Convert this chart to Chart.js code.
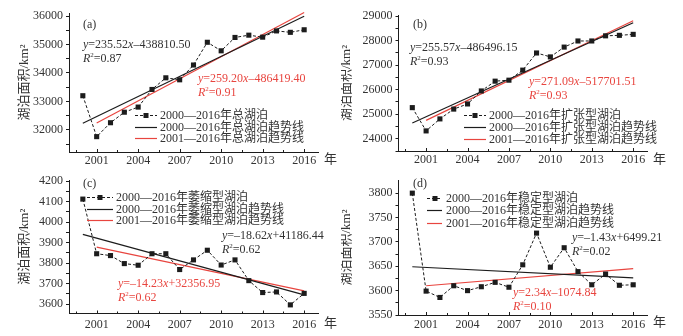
<!DOCTYPE html>
<html><head><meta charset="utf-8">
<script src="https://cdn.jsdelivr.net/npm/chart.js@4.4.1/dist/chart.umd.min.js"></script>
<style>
html,body{margin:0;padding:0;background:#fff;width:683px;height:336px;overflow:hidden}
canvas{position:absolute;display:block}
</style></head><body>
<canvas id="ca" width="341" height="168" style="left:0;top:0;width:341px;height:168px"></canvas>
<canvas id="cb" width="342" height="168" style="left:341px;top:0;width:342px;height:168px"></canvas>
<canvas id="cc" width="341" height="168" style="left:0;top:168px;width:341px;height:168px"></canvas>
<canvas id="cd" width="342" height="168" style="left:341px;top:168px;width:342px;height:168px"></canvas>
<script>
// ---------------- data ----------------
const years = [2000,2001,2002,2003,2004,2005,2006,2007,2008,2009,2010,2011,2012,2013,2014,2015,2016];
const totalLake  = [33200,31760,32250,32620,32800,33420,33830,33760,34280,35080,34780,35250,35330,35260,35480,35430,35520];
const expandLake = [25270,24320,24810,25210,25420,25950,26350,26390,26800,27500,27340,27740,27990,27990,28200,28220,28260];
const shrinkLake = [4112,3846,3837,3798,3790,3846,3846,3769,3816,3863,3791,3816,3715,3657,3660,3597,3653];
const stableLake = [3800,3599,3586,3610,3600,3608,3617,3607,3653,3718,3648,3688,3639,3612,3634,3611,3612];

const trendYears00 = [2000, 2016];
const trendYears01 = [2001, 2016];
const totalTrend00  = [32230, 35998];
const totalTrend01  = [32240, 36128];
const expandTrend00 = [24644, 28733];
const expandTrend01 = [24750, 28816];
const shrinkTrend00 = [3940, 3646];
const shrinkTrend01 = [3878, 3665];
const stableTrend00 = [3649, 3626];
const stableTrend01 = [3610, 3645];

const xTickLabels = [2001, 2004, 2007, 2010, 2013, 2016];
const yTicksA = [32000, 33000, 34000, 35000, 36000];
const yTicksB = [24000, 25000, 26000, 27000, 28000, 29000];
const yTicksC = [3600, 3700, 3800, 3900, 4000, 4100, 4200];
const yTicksD = [3550, 3600, 3650, 3700, 3750, 3800];

const labelsA = ['2000—2016年总湖泊','2000—2016年总湖泊趋势线','2001—2016年总湖泊趋势线'];
const labelsB = ['2000—2016年扩张型湖泊','2000—2016年扩张型湖泊趋势线','2001—2016年扩张型湖泊趋势线'];
const labelsC = ['2000—2016年萎缩型湖泊','2000—2016年萎缩型湖泊趋势线','2001—2016年萎缩型湖泊趋势线'];
const labelsD = ['2000—2016年稳定型湖泊','2000—2016年稳定型湖泊趋势线','2001—2016年稳定型湖泊趋势线'];

const eqA = ['y=235.52x–438810.50','0.87','y=259.20x–486419.40','0.91'];
const eqB = ['y=255.57x–486496.15','0.93','y=271.09x–517701.51','0.93'];
const eqC = ['y=–18.62x+41186.44','0.62','y=–14.23x+32356.95','0.62'];
const eqD = ['y=–1.43x+6499.21','0.02','y=2.34x–1074.84','0.10'];

const yTitle = '湖泊面积/km²';
const xUnit = '年';

// ---------------- style ----------------
const FONT = "'Liberation Serif','Times New Roman','Noto Sans CJK SC',serif";
const RED = '#e8453f';
const BLACK = '#1c1c1c';
const TXT = '#333333';

function pts(xs, ys){ return xs.map((x,i)=>({x:x, y:ys[i]})); }

function richText(ctx, parts, x, y, color, size){
  let cx = x;
  ctx.fillStyle = color; ctx.textBaseline = 'middle'; ctx.textAlign = 'left';
  for (const p of parts){
    const s = p.sup ? Math.round(size*0.6) : size;
    ctx.font = (p.it ? 'italic ' : '') + s + 'px ' + FONT;
    ctx.fillText(p.t, cx, p.sup ? y - size*0.32 : y);
    cx += ctx.measureText(p.t).width;
  }
}
function eqToParts(str){
  const parts = [];
  for (const ch of str){
    const it = (ch === 'x' || ch === 'y');
    const last = parts[parts.length-1];
    if (last && !last.it && !it) last.t += ch; else parts.push({t:ch, it:it});
  }
  return parts;
}
function r2Parts(v){ return [{t:'R',it:true},{t:'2',sup:true},{t:'='+v}]; }

const annotPlugin = {
  id: 'annot',
  afterDraw(chart, args, o){
    const ctx = chart.ctx, xs = chart.scales.x, ca = chart.chartArea;
    ctx.save();
    // inward x ticks
    ctx.strokeStyle = BLACK; ctx.lineWidth = 1;
    for (let v = 1999.5; v <= 2017.01; v += 1.5){
      const px = Math.round(xs.getPixelForValue(v)) + 0.5;
      ctx.beginPath(); ctx.moveTo(px, ca.bottom); ctx.lineTo(px, ca.bottom - (Number.isInteger(v) ? 3 : 2)); ctx.stroke();
    }
    // y title
    ctx.save();
    ctx.translate(o.titleX, (ca.top + ca.bottom)/2);
    ctx.rotate(-Math.PI/2);
    ctx.fillStyle = TXT; ctx.font = '13px ' + FONT; ctx.textAlign = 'center'; ctx.textBaseline = 'middle';
    ctx.fillText(yTitle, 0, 0);
    ctx.restore();
    // x unit
    ctx.fillStyle = TXT; ctx.font = '13px ' + FONT; ctx.textAlign = 'left'; ctx.textBaseline = 'middle';
    ctx.fillText(xUnit, ca.right + 6, ca.bottom + o.unitDy);
    // panel letter
    ctx.font = '12px ' + FONT; ctx.fillStyle = TXT;
    ctx.fillText(o.letter, o.letterPos[0], o.letterPos[1]);
    // equations
    richText(ctx, eqToParts(o.eq[0]), o.eqBlack[0], o.eqBlack[1], TXT, 12);
    richText(ctx, r2Parts(o.eq[1]), o.eqBlack[0], o.eqBlack[1] + 14, TXT, 12);
    richText(ctx, eqToParts(o.eq[2]), o.eqRed[0], o.eqRed[1], RED, 12);
    richText(ctx, r2Parts(o.eq[3]), o.eqRed[0], o.eqRed[1] + 14, RED, 12);
    // legend
    const L = o.legend;
    chart.data.datasets.forEach((ds, i) => {
      const y = Math.round(L.ys[i]) + 0.5;
      ctx.strokeStyle = ds.borderColor; ctx.lineWidth = ds.borderWidth;
      ctx.setLineDash(ds.borderDash || []);
      ctx.beginPath(); ctx.moveTo(L.x0, y); ctx.lineTo(L.x1, y); ctx.stroke();
      ctx.setLineDash([]);
      if (ds.pointRadius > 0){
        ctx.fillStyle = ds.borderColor;
        ctx.fillRect(Math.round((L.x0 + L.x1)/2) - 2.5, y - 2.5, 5, 5);
      }
      ctx.fillStyle = TXT; ctx.font = '12px ' + FONT; ctx.textAlign = 'left'; ctx.textBaseline = 'middle';
      ctx.fillText(ds.label, L.tx, y);
    });
    ctx.restore();
  }
};

function makePanel(id, p){
  const allY = [];
  for (let i = 0; i < p.yTicks.length; i++){
    allY.push(p.yTicks[i]);
    if (i < p.yTicks.length - 1) allY.push((p.yTicks[i] + p.yTicks[i+1]) / 2);
  }
  allY.push(p.yTicks[0] - (p.yTicks[1]-p.yTicks[0])/2);
  return new Chart(document.getElementById(id), {
    type: 'line',
    data: { datasets: [
      { label: p.labels[0], data: pts(years, p.series), borderColor: BLACK, backgroundColor: BLACK,
        borderWidth: 1, borderDash: [3,2], pointStyle: 'rect', pointRadius: 3.6, pointBorderWidth: 0, tension: 0, clip: false },
      { label: p.labels[1], data: pts(trendYears00, p.t00), borderColor: BLACK, borderWidth: 1.2, pointRadius: 0, clip: false },
      { label: p.labels[2], data: pts(trendYears01, p.t01), borderColor: RED, borderWidth: 1.2, pointRadius: 0, clip: false }
    ]},
    options: {
      responsive: false, animation: false, devicePixelRatio: 1,
      layout: { padding: { top: p.top, right: p.right, left: 0, bottom: 0 } },
      plugins: { legend: { display: false }, tooltip: { enabled: false }, annot: p.annot },
      scales: {
        x: { type: 'linear', min: 1999, max: 2017,
          afterBuildTicks: s => { s.ticks = xTickLabels.map(v => ({value: v})); },
          afterFit: s => { s.height = p.xH; },
          grid: { display: false, drawTicks: false },
          border: { display: true, color: BLACK, width: 1 },
          ticks: { padding: p.xPad, color: TXT, font: { family: FONT, size: 12 }, maxRotation: 0, autoSkip: false,
            callback: v => String(v) } },
        y: { type: 'linear', min: p.yMin, max: p.yMax,
          afterBuildTicks: s => { s.ticks = allY.filter(v => v >= p.yMin && v <= p.yMax).sort((a,b)=>a-b).map(v => ({value: v})); },
          afterFit: s => { s.width = p.L; },
          grid: { display: true, drawOnChartArea: false, drawTicks: true, tickLength: 3, color: BLACK },
          border: { display: true, color: BLACK, width: 1 },
          ticks: { padding: 3, color: TXT, font: { family: FONT, size: 12 }, autoSkip: false,
            callback: v => (p.yTicks.indexOf(v) >= 0 ? String(v) : '') } }
      }
    },
    plugins: [annotPlugin]
  });
}

makePanel('ca', { series: totalLake, t00: totalTrend00, t01: totalTrend01, labels: labelsA, yTicks: yTicksA,
  yMin: 31220, yMax: 36110, top: 13, right: 23, L: 69, xH: 16, xPad: 2,
  annot: { titleX: 25, unitDy: 8, letter: '(a)', letterPos: [83, 25], eq: eqA, eqBlack: [83, 45], eqRed: [198, 79],
    legend: { x0: 135, x1: 157, tx: 160, ys: [115, 126.5, 137.5] } } });

makePanel('cb', { series: expandLake, t00: expandTrend00, t01: expandTrend01, labels: labelsB, yTicks: yTicksB,
  yMin: 23500, yMax: 29050, top: 15, right: 36, L: 57.5, xH: 17, xPad: 2,
  annot: { titleX: 6, unitDy: 9, letter: '(b)', letterPos: [72, 25], eq: eqB, eqBlack: [69, 48], eqRed: [188, 82],
    legend: { x0: 123, x1: 145, tx: 148, ys: [114.5, 127, 138.5] } } });

makePanel('cc', { series: shrinkLake, t00: shrinkTrend00, t01: shrinkTrend01, labels: labelsC, yTicks: yTicksC,
  yMin: 3555, yMax: 4205, top: 12, right: 23, L: 69, xH: 22.5, xPad: 4,
  annot: { titleX: 25, unitDy: 10, letter: '(c)', letterPos: [83, 16], eq: eqC, eqBlack: [222, 68], eqRed: [118, 116],
    legend: { x0: 87, x1: 113, tx: 116, ys: [29, 40.5, 51.5] } } });

makePanel('cd', { series: stableLake, t00: stableTrend00, t01: stableTrend01, labels: labelsD, yTicks: yTicksD,
  yMin: 3550, yMax: 3827, top: 12, right: 36, L: 57.5, xH: 21, xPad: 3,
  annot: { titleX: 6, unitDy: 8, letter: '(d)', letterPos: [72, 16], eq: eqD, eqBlack: [231, 70], eqRed: [172, 125],
    legend: { x0: 86, x1: 101, tx: 105, ys: [29.5, 42, 55] } } });
</script>
</body></html>
